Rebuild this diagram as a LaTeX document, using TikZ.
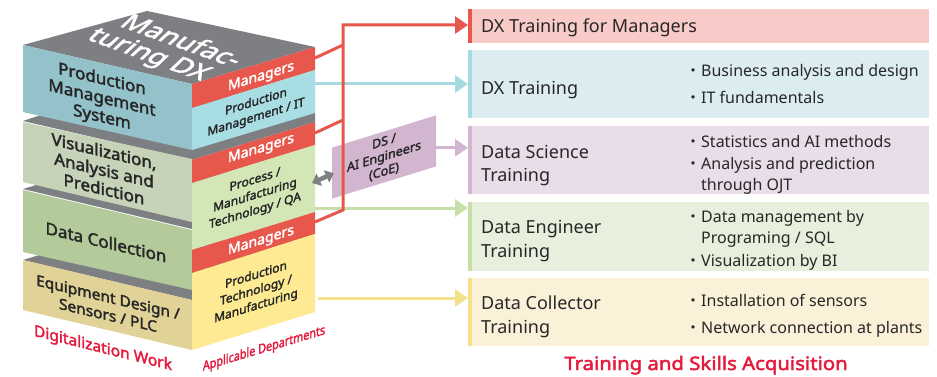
\documentclass[tikz,border=0pt]{standalone}
\usepackage{fontspec}
\setmainfont{Noto Sans}[AutoFakeBold=2.2]
\newfontfamily\cjk{Noto Sans CJK JP}
\usetikzlibrary{arrows.meta}

\definecolor{topgray}{HTML}{7E7F83}
\definecolor{pmsface}{HTML}{93C2CA}
\definecolor{pmsright}{HTML}{A8DDE4}
\definecolor{mgrred}{HTML}{E8574B}
\definecolor{visface}{HTML}{C6D3B9}
\definecolor{procright}{HTML}{D3E6B5}
\definecolor{dcface}{HTML}{B3CA9B}
\definecolor{eqface}{HTML}{E1D397}
\definecolor{ptright}{HTML}{FDEA93}
\definecolor{dsfill}{HTML}{D2B6D0}
\definecolor{labelred}{HTML}{E51A3C}
\definecolor{txt}{HTML}{272727}
\definecolor{pinkbox}{HTML}{F8CBC9}
\definecolor{bluebox}{HTML}{DBEDF1}
\definecolor{bluestripe}{HTML}{A7D9E1}
\definecolor{lilacbox}{HTML}{E9DDE9}
\definecolor{greenbox}{HTML}{E7F0DC}
\definecolor{greenstripe}{HTML}{C8DEA8}
\definecolor{creambox}{HTML}{FBF1D9}
\definecolor{yellowstripe}{HTML}{F5E08C}
\definecolor{arrowgray}{HTML}{7F8083}

\newcommand\tdot{{\cjk ・}}
\newcommand\tind{\phantom{\cjk ・}}

\begin{document}
\begin{tikzpicture}[x=1pt,y=-1pt,
  leftlabel/.style={font=\bfseries\fontsize{16.5}{19}\selectfont, text=txt, align=center, yslant=-0.237, xscale=1.03, inner sep=0},
  rightlabel/.style={font=\bfseries\fontsize{12}{15.5}\selectfont, text=txt, align=center, yslant=0.31, inner sep=0},
  mgrlabel/.style={font=\bfseries\fontsize{14}{16}\selectfont, text=white, yslant=0.31, inner sep=0},
  trainbox/.style={anchor=north west, minimum width=461pt, inner sep=0, outer sep=0},
  boxtitle/.style={anchor=base west, font=\fontsize{18}{24}\selectfont, text=txt, align=left, inner sep=0},
  bulletitem/.style={anchor=base west, font=\fontsize{16}{21}\selectfont, text=txt, align=left, inner sep=0},
  feedarrow/.style={line width=3pt, -{Triangle[length=13pt,width=17pt]}},
  dblarrow/.style={line width=4.5pt, arrowgray, {Triangle[length=8pt,width=13pt]}-{Triangle[length=8pt,width=13pt]}},
]
\fill[white] (0,0) rectangle (937,377);
\useasboundingbox (0,0) rectangle (937,377);

% ---- layered stack, drawn from the bottom block upwards ----
% Equipment Design / Sensors / PLC
\fill[topgray] (23,260) -- (146,222) -- (315,262) -- (192,300) -- cycle;
\fill[eqface] (23,260) -- (192,300) -- (192,350) -- (23,310) -- cycle;
% Data Collection
\fill[topgray] (23,189) -- (146,152) -- (315,192) -- (192,229) -- cycle;
\fill[dcface] (23,190) -- (192,230) -- (192,290) -- (23,252) -- cycle;
% Visualization, Analysis and Prediction
\fill[topgray] (23,121) -- (146,80) -- (315,113) -- (315,122) -- (192,160) -- cycle;
\fill[visface] (23,122) -- (192,159) -- (192,222) -- (23,182) -- cycle;
% departments on the right side of the lower blocks
\fill[mgrred] (192,160) -- (315,122) -- (315,145) -- (192,183) -- cycle;
\fill[procright] (192,183) -- (315,145) -- (315,212) -- (192,250) -- cycle;
\fill[mgrred] (192,250) -- (315,212) -- (315,234) -- (192,273) -- cycle;
\fill[ptright] (192,273) -- (315,234) -- (315,312) -- (192,350) -- cycle;
% Production Management System (top block)
\fill[topgray] (23,45) -- (147,11) -- (315,47) -- (192,84) -- cycle;
\fill[pmsface] (23,45) -- (192,84) -- (192,150) -- (23,112) -- cycle;
\fill[mgrred] (192,84) -- (315,47) -- (315,70) -- (192,108) -- cycle;
\fill[pmsright] (192,108) -- (315,70) -- (315,113) -- (192,150) -- cycle;

% top face title
\node[font=\bfseries\fontsize{23}{23.5}\selectfont, text=white, align=left, inner sep=0,
      rotate=-20, xslant=0.5, xscale=1.2] (dxtitle) at (171,51)
  {Manufac-\\\hspace*{-12pt}turing DX};

% left face labels
\node[leftlabel] (pms) at (102,99) {Production\\Management\\System};
\node[leftlabel] (vis) at (104,170) {Visualization,\\Analysis and\\Prediction};
\node[leftlabel] (dc) at (106,242) {Data Collection};
\node[leftlabel, font=\bfseries\fontsize{15}{18}\selectfont] (eq) at (108,306) {Equipment Design /\\Sensors / PLC};

% right face labels
\node[mgrlabel] (mgr1) at (261,77) {Managers};
\node[rightlabel] (pmit) at (256,110) {Production\\Management / IT};
\node[mgrlabel] (mgr2) at (261,149) {Managers};
\node[rightlabel] (proc) at (255,196) {Process /\\Manufacturing\\Technology / QA};
\node[mgrlabel] (mgr3) at (261,241) {Managers};
\node[rightlabel] (ptm) at (256,291) {Production\\Technology /\\Manufacturing};

% captions under the stack
\node[font=\bfseries\fontsize{15.5}{18}\selectfont, text=labelred, yslant=-0.25, inner sep=0] (digi) at (103,349) {Digitalization Work};
\node[font=\bfseries\fontsize{13}{15}\selectfont, text=labelred, yslant=0.3, xscale=0.83, inner sep=0] (appl) at (264,349) {Applicable Departments};

% DS / AI engineers
\node[fill=dsfill, minimum width=104pt, minimum height=51pt, inner sep=0, yslant=0.31,
      align=center, font=\bfseries\fontsize{12.5}{15}\selectfont, text=txt] (ds) at (384,157)
  {DS /\\AI Engineers\\(CoE)};

% ---- training boxes ----
\node[trainbox, fill=pinkbox, minimum height=34pt] (b1) at (468,9) {};
\node[trainbox, fill=bluebox, minimum height=68pt] (b2) at (468,50) {};
\node[trainbox, fill=lilacbox, minimum height=68pt] (b3) at (468,126) {};
\node[trainbox, fill=greenbox, minimum height=69pt] (b4) at (468,202) {};
\node[trainbox, fill=creambox, minimum height=68pt] (b5) at (468,278) {};
\fill[mgrred] (b1.north west) rectangle ([xshift=4pt]b1.south west);
\fill[bluestripe] (b2.north west) rectangle ([xshift=4pt]b2.south west);
\fill[dsfill] (b3.north west) rectangle ([xshift=4pt]b3.south west);
\fill[greenstripe] (b4.north west) rectangle ([xshift=4pt]b4.south west);
\fill[yellowstripe] (b5.north west) rectangle ([xshift=4pt]b5.south west);

% multi-line nodes are placed by the baseline of their last line
\node[boxtitle] (t1) at (481,33) {DX Training for Managers};
\node[boxtitle] (t2) at (481,95) {DX Training};
\node[bulletitem] (i21) at (685,77) {\tdot Business analysis and design};
\node[bulletitem] (i22) at (685,104) {\tdot IT fundamentals};
\node[boxtitle] (t3) at (481,182) {Data Science\\Training};
\node[bulletitem] (i31) at (685,148) {\tdot Statistics and AI methods};
\node[bulletitem] (i32) at (685,190) {\tdot Analysis and prediction\\\tind through OJT};
\node[boxtitle] (t4) at (481,257) {Data Engineer\\Training};
\node[bulletitem] (i41) at (685,243) {\tdot Data management by\\\tind Programing / SQL};
\node[bulletitem] (i42) at (685,266) {\tdot Visualization by BI};
\node[boxtitle] (t5) at (481,333) {Data Collector\\Training};
\node[bulletitem] (i51) at (685,306) {\tdot Installation of sensors};
\node[bulletitem] (i52) at (685,333) {\tdot Network connection at plants};

\node[font=\bfseries\fontsize{18.5}{22}\selectfont, text=labelred, anchor=base, xscale=1.1, inner sep=0] (skills) at (706,370) {Training and Skills Acquisition};

% ---- connectors ----
\coordinate (mg1) at (315,58);
\coordinate (mg2) at (315,133);
\coordinate (mg3) at (315,222);
\coordinate (j1) at (343,45);
\coordinate (j2) at (343,120);
\coordinate (j3) at (343,210);
\coordinate (jt) at (343,25);
\coordinate (pmsout) at (315,84);
\coordinate (procout) at (315,208);
\coordinate (procside) at (312,183);
\coordinate (ptout) at (318,298);
\coordinate (dsout) at ([yshift=-7pt]ds.east);

\draw[feedarrow, bluestripe] (pmsout) -- (pmsout -| b2.west);
\draw[feedarrow, dsfill] (dsout) -- (dsout -| b3.west);
\draw[feedarrow, greenstripe] (procout) -- (procout -| b4.west);
\draw[feedarrow, yellowstripe] (ptout) -- (ptout -| b5.west);
\draw[line width=3pt, mgrred] (mg1) -- (j1);
\draw[line width=3pt, mgrred] (mg2) -- (j2);
\draw[feedarrow, mgrred, line join=miter] (mg3) -- (j3) -- (jt) -- (jt -| b1.west);
\draw[dblarrow] (procside) -- ([xshift=2pt]ds.west);
\end{tikzpicture}
\end{document}
